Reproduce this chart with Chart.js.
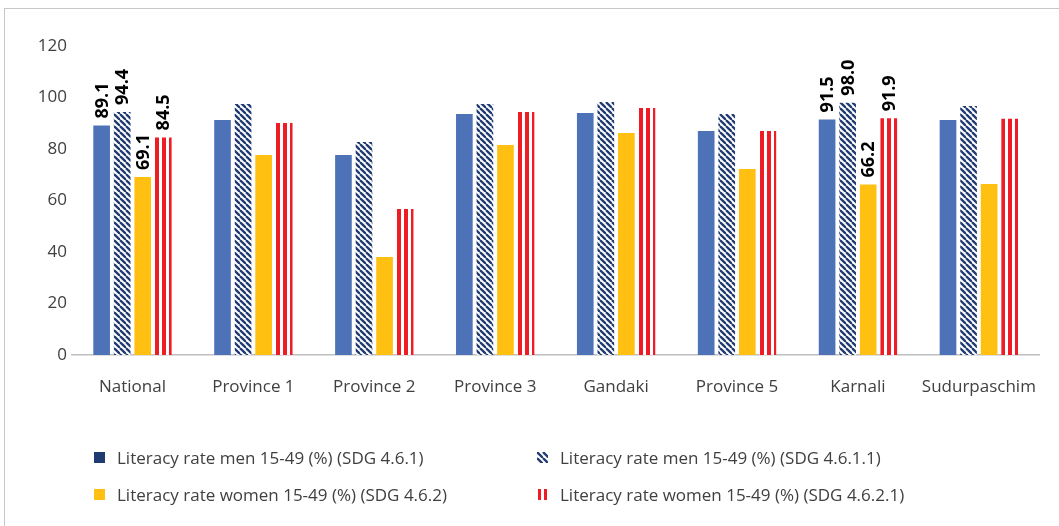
<!DOCTYPE html>
<html>
<head>
<meta charset="utf-8">
<script src="https://cdn.jsdelivr.net/npm/chart.js@4/dist/chart.umd.min.js"></script>
<style>
  html, body { margin: 0; padding: 0; background: #fff; }
  body { width: 1059px; height: 526px; position: relative; overflow: hidden; font-family: "Open Sans", sans-serif; }
  #frame { position: absolute; left: 4px; top: 8px; width: 1200px; height: 700px; border-left: 1px solid #c8c8c8; border-top: 1px solid #c8c8c8; }
  #chart { position: absolute; left: 0; top: 0; }
  #legend { position: absolute; left: 0; top: 0; width: 1059px; height: 526px; pointer-events: none; }
  .item { position: absolute; display: flex; align-items: center; font-size: 17px; color: #404040; white-space: nowrap; }
  .item canvas { margin-right: 12px; }
</style>
</head>
<body>
<div id="frame"></div>
<canvas id="chart" width="1059" height="410"></canvas>
<div id="legend"></div>
<script>
// Literacy rates by province (%)
const categories = ['National', 'Province 1', 'Province 2', 'Province 3', 'Gandaki', 'Province 5', 'Karnali', 'Sudurpaschim'];
const menSdg461 = [89.1, 91.3, 77.7, 93.6, 94.0, 87.0, 91.5, 91.3];
const menSdg4611 = [94.4, 97.5, 82.7, 97.5, 98.3, 93.6, 98.0, 96.7];
const womenSdg462 = [69.1, 77.7, 38.1, 81.6, 86.2, 72.2, 66.2, 66.4];
const womenSdg4621 = [84.5, 90.1, 56.7, 94.4, 95.9, 87.0, 91.9, 91.7];
const seriesNames = [
  'Literacy rate men 15-49 (%) (SDG 4.6.1)',
  'Literacy rate men 15-49 (%) (SDG 4.6.1.1)',
  'Literacy rate women 15-49 (%) (SDG 4.6.2)',
  'Literacy rate women 15-49 (%) (SDG 4.6.2.1)'
];
const yTicks = [0, 20, 40, 60, 80, 100, 120];
// categories whose bars carry value labels
const labelledCategories = ['National', 'Karnali'];

const BLUE = '#4e72b8';
const NAVY = '#203a72';
const YELLOW = '#ffc012';
const RED = '#ee1c25';

// diagonal navy hatch tile
function hatchTile() {
  const c = document.createElement('canvas');
  c.width = 6; c.height = 6;
  const g = c.getContext('2d');
  g.fillStyle = '#fff'; g.fillRect(0, 0, 6, 6);
  g.strokeStyle = NAVY; g.lineWidth = 2.3;
  for (const o of [-6, 0, 6]) {
    g.beginPath(); g.moveTo(o, 0); g.lineTo(o + 6, 6); g.stroke();
  }
  return c;
}
// vertical red stripe tile: 4px red, 3px white
function stripeTile() {
  const c = document.createElement('canvas');
  c.width = 7; c.height = 4;
  const g = c.getContext('2d');
  g.fillStyle = '#fff'; g.fillRect(0, 0, 7, 4);
  g.fillStyle = RED; g.fillRect(0, 0, 4, 4);
  return c;
}
const ctx = document.getElementById('chart').getContext('2d');
const hatchPattern = ctx.createPattern(hatchTile(), 'repeat');
const stripeCanvas = stripeTile();

// align the stripes of each striped bar to its own left edge
const stripeAlign = {
  id: 'stripeAlign',
  beforeDatasetDraw(chart, args) {
    if (args.index !== 3) return;
    args.meta.data.forEach(el => {
      const p = chart.ctx.createPattern(stripeCanvas, 'repeat');
      p.setTransform(new DOMMatrix([1, 0, 0, 1, Math.round(el.x - el.width / 2), 0]));
      el.options = Object.assign({}, el.options, { backgroundColor: p });
    });
  }
};

// rotated value labels above selected bars
const valueLabels = {
  id: 'valueLabels',
  afterDatasetsDraw(chart) {
    const c = chart.ctx;
    c.save();
    c.font = 'bold 18px "Open Sans", sans-serif';
    c.fillStyle = '#000';
    c.textAlign = 'left';
    c.textBaseline = 'middle';
    chart.data.datasets.forEach((ds, di) => {
      const meta = chart.getDatasetMeta(di);
      labelledCategories.forEach(cat => {
        const i = categories.indexOf(cat);
        const el = meta.data[i];
        c.save();
        c.translate(el.x + 1, el.y - 7);
        c.rotate(-Math.PI / 2);
        c.fillText(ds.data[i].toFixed(1), 0, 0);
        c.restore();
      });
    });
    c.restore();
  }
};

const chart = new Chart(ctx, {
  type: 'bar',
  data: {
    labels: categories,
    datasets: [
      { label: seriesNames[0], data: menSdg461, backgroundColor: BLUE },
      { label: seriesNames[1], data: menSdg4611, backgroundColor: hatchPattern },
      { label: seriesNames[2], data: womenSdg462, backgroundColor: YELLOW },
      { label: seriesNames[3], data: womenSdg4621, backgroundColor: RED }
    ]
  },
  options: {
    responsive: false,
    devicePixelRatio: 1,
    animation: false,
    events: [],
    datasets: { bar: { categoryPercentage: 0.68, barPercentage: 0.81, borderWidth: 0 } },
    layout: { padding: { top: 46, right: 18, bottom: 5, left: 0 } },
    scales: {
      x: {
        afterFit: s => { s.height = 50; },
        grid: { display: false, drawTicks: false },
        border: { color: '#bfbfbf', width: 1.5 },
        ticks: { font: { family: 'Open Sans', size: 17 }, color: '#404040', padding: 22 }
      },
      y: {
        min: 0, max: 120,
        afterBuildTicks: s => { s.ticks = yTicks.map(v => ({ value: v })); },
        afterFit: s => { s.width = 72; },
        grid: { display: false, drawTicks: false },
        border: { display: false },
        ticks: { font: { family: 'Open Sans', size: 17 }, color: '#404040', padding: 5 }
      }
    },
    plugins: { legend: { display: false }, tooltip: { enabled: false } }
  },
  plugins: [stripeAlign, valueLabels]
});

// two-column legend built from the datasets
function swatch(di) {
  const c = document.createElement('canvas');
  c.width = 11; c.height = 11;
  const g = c.getContext('2d');
  if (di === 0) { g.fillStyle = NAVY; g.fillRect(0, 0, 11, 11); }
  if (di === 1) { g.fillStyle = g.createPattern(hatchTile(), 'repeat'); g.fillRect(0, 0, 11, 11); }
  if (di === 2) { g.fillStyle = YELLOW; g.fillRect(0, 0, 11, 11); }
  if (di === 3) { g.fillStyle = RED; g.fillRect(1, 0, 3, 11); g.fillRect(7, 0, 3, 11); }
  return c;
}
const legendPos = [[94, 457], [537, 457], [94, 494], [537, 494]];
chart.data.datasets.forEach((ds, di) => {
  const item = document.createElement('div');
  item.className = 'item';
  item.style.left = legendPos[di][0] + 'px';
  item.style.top = (legendPos[di][1] - 12) + 'px';
  item.style.height = '24px';
  item.appendChild(swatch(di));
  const t = document.createElement('span');
  t.textContent = ds.label;
  item.appendChild(t);
  document.getElementById('legend').appendChild(item);
});
</script>
</body>
</html>
